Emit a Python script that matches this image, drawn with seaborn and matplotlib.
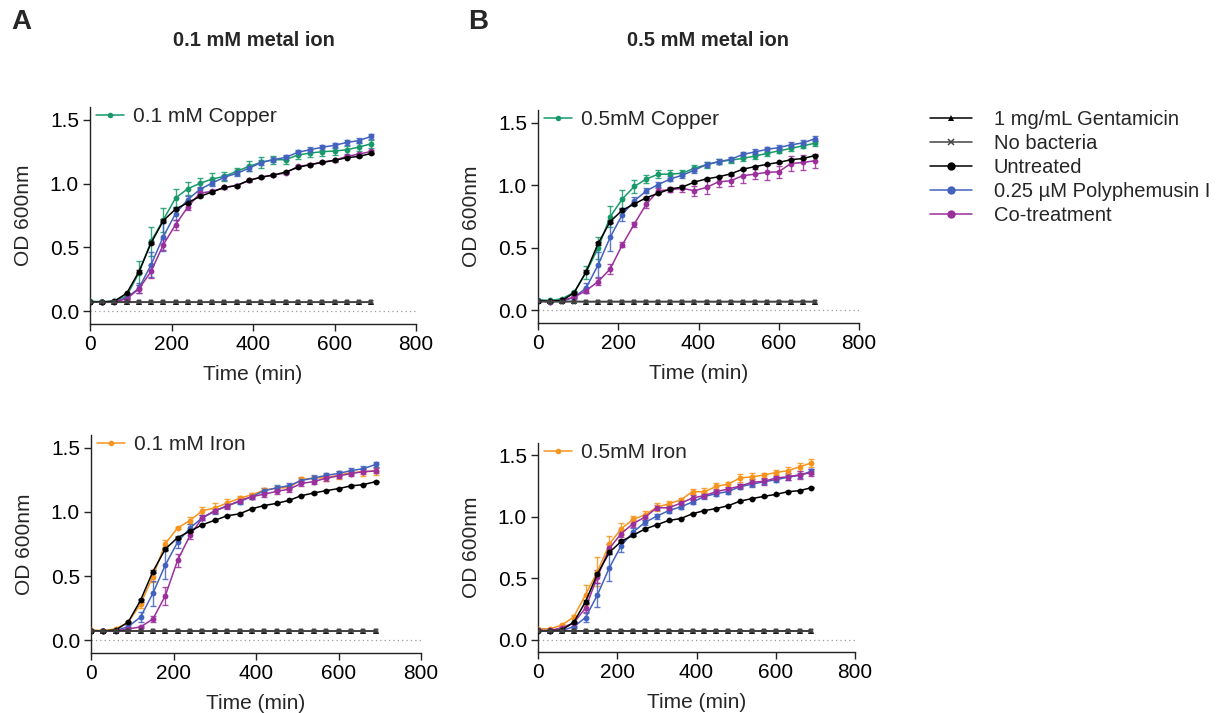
import numpy as np
import pandas as pd
import matplotlib
matplotlib.use("Agg")
import matplotlib.pyplot as plt
from matplotlib.lines import Line2D
import seaborn as sns

# ---------------- data ----------------
time_min = [0, 30, 60, 90, 120, 150, 180, 210, 240, 270, 300, 330,
            360, 390, 420, 450, 480, 510, 540, 570, 600, 630, 660, 690]

gentamicin = [0.075, 0.073, 0.072, 0.072, 0.071, 0.071, 0.071, 0.071, 0.071, 0.071, 0.071, 0.071,
              0.071, 0.071, 0.071, 0.071, 0.071, 0.071, 0.071, 0.071, 0.071, 0.071, 0.071, 0.071]
no_bacteria = [0.072, 0.070, 0.070, 0.070, 0.070, 0.070, 0.070, 0.070, 0.070, 0.070, 0.070, 0.070,
               0.070, 0.070, 0.070, 0.070, 0.070, 0.070, 0.070, 0.070, 0.070, 0.070, 0.070, 0.070]

untreated = [0.073, 0.072, 0.080, 0.140, 0.310, 0.535, 0.710, 0.800, 0.850, 0.900, 0.935, 0.970,
             0.985, 1.025, 1.050, 1.067, 1.090, 1.127, 1.148, 1.166, 1.182, 1.203, 1.213, 1.236]
untreated_sd = [0.003, 0.003, 0.003, 0.005, 0.010, 0.010, 0.010, 0.008, 0.006, 0.005, 0.005, 0.005,
                0.005, 0.005, 0.005, 0.005, 0.005, 0.005, 0.005, 0.005, 0.005, 0.005, 0.005, 0.005]

polyphemusin = [0.075, 0.070, 0.075, 0.105, 0.180, 0.365, 0.585, 0.765, 0.875, 0.955, 1.005, 1.050,
                1.080, 1.120, 1.165, 1.188, 1.205, 1.245, 1.265, 1.285, 1.300, 1.322, 1.337, 1.370]
polyphemusin_sd = [0.004, 0.004, 0.004, 0.010, 0.040, 0.100, 0.110, 0.050, 0.030, 0.020, 0.020, 0.020,
                   0.020, 0.020, 0.020, 0.020, 0.020, 0.020, 0.020, 0.020, 0.020, 0.020, 0.020, 0.020]

# 0.1 mM copper
cu01 = [0.078, 0.075, 0.080, 0.120, 0.300, 0.548, 0.717, 0.887, 0.960, 1.002, 1.036, 1.057,
        1.096, 1.135, 1.166, 1.187, 1.187, 1.224, 1.239, 1.250, 1.255, 1.265, 1.286, 1.312]
cu01_sd = [0.005, 0.005, 0.005, 0.010, 0.094, 0.115, 0.094, 0.068, 0.050, 0.040, 0.050, 0.035,
           0.030, 0.040, 0.040, 0.030, 0.030, 0.030, 0.030, 0.030, 0.030, 0.030, 0.030, 0.030]
cu01_cotreat = [0.075, 0.070, 0.075, 0.097, 0.175, 0.313, 0.522, 0.678, 0.817, 0.926, 0.939, 0.970,
                0.984, 1.025, 1.051, 1.067, 1.083, 1.135, 1.148, 1.169, 1.182, 1.213, 1.231, 1.252]
cu01_cotreat_sd = [0.004, 0.004, 0.004, 0.010, 0.030, 0.050, 0.040, 0.040, 0.025, 0.010, 0.010, 0.010,
                   0.010, 0.010, 0.010, 0.010, 0.010, 0.010, 0.010, 0.010, 0.010, 0.010, 0.010, 0.010]

# 0.5 mM copper
cu05 = [0.085, 0.080, 0.093, 0.146, 0.305, 0.500, 0.749, 0.889, 0.990, 1.049, 1.088, 1.088,
        1.096, 1.136, 1.163, 1.187, 1.200, 1.213, 1.232, 1.253, 1.274, 1.293, 1.314, 1.335]
cu05_sd = [0.005, 0.005, 0.005, 0.010, 0.050, 0.090, 0.085, 0.070, 0.050, 0.035, 0.030, 0.030,
           0.025, 0.025, 0.025, 0.020, 0.020, 0.020, 0.020, 0.020, 0.020, 0.020, 0.020, 0.020]
cu05_cotreat = [0.075, 0.070, 0.080, 0.106, 0.159, 0.231, 0.332, 0.523, 0.690, 0.850, 0.956, 0.964,
                0.974, 0.956, 0.982, 1.027, 1.035, 1.075, 1.088, 1.102, 1.107, 1.173, 1.181, 1.195]
cu05_cotreat_sd = [0.004, 0.004, 0.004, 0.010, 0.020, 0.030, 0.040, 0.020, 0.020, 0.030, 0.020, 0.020,
                   0.030, 0.040, 0.050, 0.040, 0.040, 0.060, 0.040, 0.060, 0.050, 0.060, 0.060, 0.055]

# 0.1 mM iron
fe01 = [0.077, 0.075, 0.088, 0.139, 0.281, 0.495, 0.753, 0.876, 0.933, 1.010, 1.031, 1.070,
        1.106, 1.134, 1.170, 1.186, 1.190, 1.253, 1.263, 1.268, 1.286, 1.307, 1.312, 1.320]
fe01_sd = [0.004, 0.004, 0.005, 0.010, 0.030, 0.040, 0.030, 0.010, 0.030, 0.030, 0.040, 0.030,
           0.020, 0.015, 0.015, 0.020, 0.020, 0.020, 0.020, 0.030, 0.030, 0.020, 0.030, 0.030]
fe01_cotreat = [0.075, 0.070, 0.075, 0.088, 0.103, 0.165, 0.345, 0.624, 0.817, 0.954, 1.010, 1.044,
                1.088, 1.119, 1.139, 1.160, 1.178, 1.222, 1.237, 1.263, 1.281, 1.299, 1.314, 1.320]
fe01_cotreat_sd = [0.004, 0.004, 0.004, 0.005, 0.010, 0.025, 0.070, 0.050, 0.030, 0.020, 0.020, 0.020,
                   0.020, 0.020, 0.020, 0.020, 0.020, 0.020, 0.020, 0.020, 0.020, 0.020, 0.020, 0.020]

# 0.5 mM iron
fe05 = [0.089, 0.089, 0.118, 0.185, 0.366, 0.554, 0.777, 0.903, 0.978, 1.016, 1.078, 1.105,
        1.137, 1.204, 1.204, 1.247, 1.266, 1.315, 1.325, 1.339, 1.360, 1.374, 1.406, 1.438]
fe05_sd = [0.005, 0.005, 0.010, 0.020, 0.080, 0.115, 0.070, 0.050, 0.030, 0.030, 0.030, 0.020,
           0.015, 0.020, 0.030, 0.030, 0.020, 0.030, 0.030, 0.020, 0.020, 0.030, 0.030, 0.030]
fe05_cotreat = [0.075, 0.075, 0.097, 0.137, 0.258, 0.513, 0.742, 0.863, 0.944, 0.997, 1.073, 1.073,
                1.110, 1.153, 1.172, 1.204, 1.226, 1.250, 1.280, 1.288, 1.315, 1.325, 1.341, 1.360]
fe05_cotreat_sd = [0.004, 0.004, 0.005, 0.010, 0.030, 0.050, 0.040, 0.030, 0.030, 0.020, 0.020, 0.020,
                   0.020, 0.020, 0.020, 0.020, 0.020, 0.020, 0.030, 0.030, 0.020, 0.030, 0.030, 0.030]

panel_labels = ["0.1 mM Copper", "0.5mM Copper", "0.1 mM Iron", "0.5mM Iron"]
column_titles = ["0.1 mM metal ion", "0.5 mM metal ion"]
legend_labels = ["1 mg/mL Gentamicin", "No bacteria", "Untreated",
                 "0.25 µM Polyphemusin I", "Co-treatment"]

# ---------------- style ----------------
sns.set_theme(style="ticks")
plt.rcParams["font.family"] = ["Liberation Sans", "DejaVu Sans"]
plt.rcParams["axes.linewidth"] = 1.0

GREEN = "#17996a"
BLUE = "#4262be"
PURPLE = "#9b2f9c"
ORANGE = "#f7941d"
BLACK = "#000000"
GREY = "#444444"

FS = 15
LEG_FS = 14.5

fig = plt.figure(figsize=(12.22, 7.13), dpi=100)
W, H = 1222, 713


def px_axes(left, top, right, bottom):
    return fig.add_axes([left / W, 1 - bottom / H, (right - left) / W, (bottom - top) / H])


axes = [px_axes(90, 107, 416, 324), px_axes(538, 110, 859, 323),
        px_axes(91, 435, 421, 653), px_axes(538, 443, 855, 652)]

panels = [
    (cu01, cu01_sd, cu01_cotreat, cu01_cotreat_sd, GREEN),
    (cu05, cu05_sd, cu05_cotreat, cu05_cotreat_sd, GREEN),
    (fe01, fe01_sd, fe01_cotreat, fe01_cotreat_sd, ORANGE),
    (fe05, fe05_sd, fe05_cotreat, fe05_cotreat_sd, ORANGE),
]

for ax, (metal, metal_sd, cot, cot_sd, mcol), label in zip(axes, panels, panel_labels):
    series = [
        ("metal", metal, metal_sd, mcol, "o"),
        ("poly", polyphemusin, polyphemusin_sd, BLUE, "o"),
        ("cot", cot, cot_sd, PURPLE, "o"),
        ("untreated", untreated, untreated_sd, BLACK, "o"),
        ("genta", gentamicin, None, BLACK, "^"),
        ("nobact", no_bacteria, None, GREY, "X"),
    ]
    frames = []
    for name, vals, sd, col, mk in series:
        frames.append(pd.DataFrame({"time": time_min, "od": vals, "group": name}))
    df = pd.concat(frames, ignore_index=True)
    palette = {s[0]: s[3] for s in series}
    markers = {s[0]: s[4] for s in series}
    ax.axhline(0, color="#9a9a9a", lw=0.9, ls=(0, (1, 2.5)), zorder=0)
    # error bars first, then mean lines with markers
    for name, vals, sd, col, mk in series:
        if sd is not None:
            ax.errorbar(time_min, vals, yerr=sd, fmt="none", ecolor=col,
                        elinewidth=1.0, capsize=2.5, capthick=1.0, alpha=0.85, zorder=2)
    sns.lineplot(data=df, x="time", y="od", hue="group", style="group",
                 palette=palette, markers=markers, dashes=False, legend=False,
                 markersize=4.2, markeredgewidth=0, linewidth=1.1, ax=ax,
                 errorbar=None, sort=False, zorder=3)
    ax.set_xlim(0, 800)
    ax.set_ylim(-0.1, 1.6)
    ax.set_xticks([0, 200, 400, 600, 800])
    ax.set_yticks([0.0, 0.5, 1.0, 1.5])
    ax.set_yticklabels(["0.0", "0.5", "1.0", "1.5"])
    ax.tick_params(axis="both", direction="out", length=5, width=1.0,
                   labelsize=FS, colors="#222222", labelcolor="black", pad=3)
    for side in ("top", "right"):
        ax.spines[side].set_visible(False)
    for side in ("left", "bottom"):
        ax.spines[side].set_color("#222222")
    ax.set_xlabel("Time (min)", fontsize=FS, labelpad=8)
    ax.set_ylabel("OD 600nm", fontsize=FS, labelpad=12)
    handle = Line2D([], [], color=mcol, marker="o", markersize=4, markeredgewidth=0, lw=1.1)
    ax.legend(handles=[handle], labels=[label], loc="center left",
              bbox_to_anchor=(0.018, 0.955), frameon=False, fontsize=FS,
              handlelength=1.35, handletextpad=0.45, borderpad=0, borderaxespad=0)

# shared legend on the right
legend_handles = [
    Line2D([], [], color=BLACK, marker="^", markersize=5, markeredgewidth=0, lw=1.1),
    Line2D([], [], color=GREY, marker="x", markersize=5, markeredgewidth=1.1, lw=1.1),
    Line2D([], [], color=BLACK, marker="o", markersize=6, markeredgewidth=0, lw=1.1),
    Line2D([], [], color=BLUE, marker="o", markersize=6, markeredgewidth=0, lw=1.1),
    Line2D([], [], color=PURPLE, marker="o", markersize=6, markeredgewidth=0, lw=1.1),
]
fig.legend(handles=legend_handles, labels=legend_labels, loc="upper left",
           bbox_to_anchor=(920 / W, 1 - 100 / H), frameon=False, fontsize=LEG_FS,
           handlelength=2.1, handletextpad=1.05, labelspacing=0.25, borderpad=0)

# column titles and panel letters
fig.text(254 / W, 1 - 41 / H, column_titles[0], ha="center", va="center",
         fontsize=14.5, fontweight="bold")
fig.text(708 / W, 1 - 41 / H, column_titles[1], ha="center", va="center",
         fontsize=14.5, fontweight="bold")
fig.text(11 / W, 1 - 22 / H, "A", ha="left", va="center", fontsize=20, fontweight="bold")
fig.text(468 / W, 1 - 22 / H, "B", ha="left", va="center", fontsize=20, fontweight="bold")

fig.savefig("out.png", dpi=100, facecolor="white")
